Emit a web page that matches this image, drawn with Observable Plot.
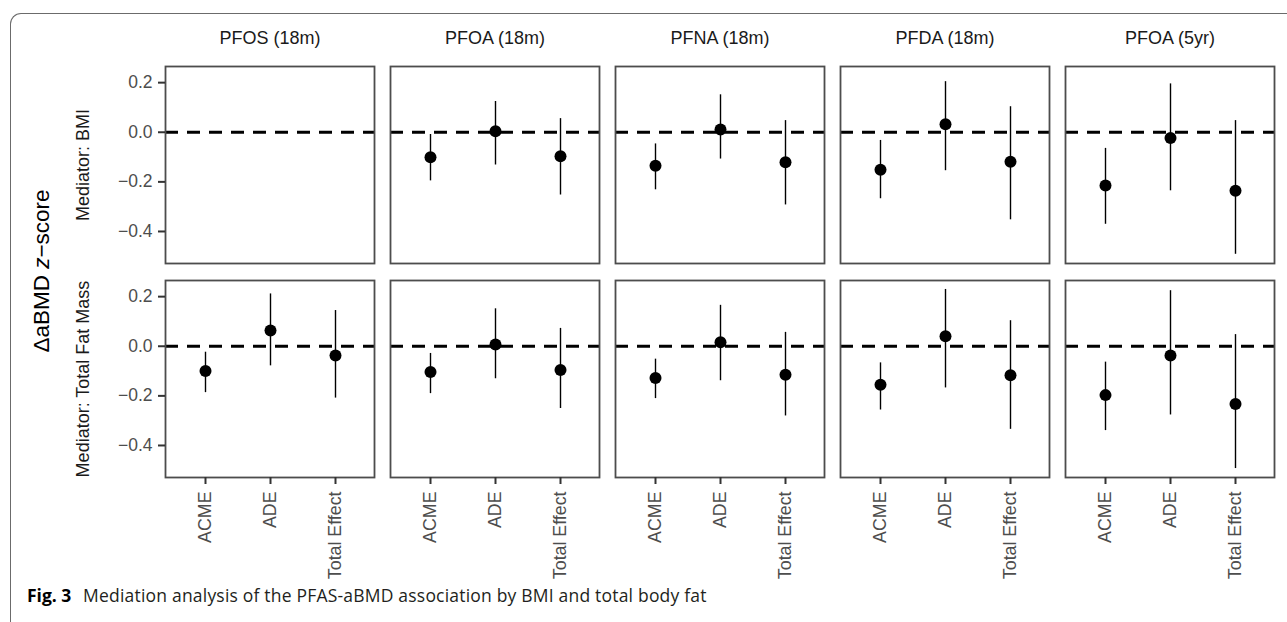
<!DOCTYPE html>
<html><head><meta charset="utf-8">
<script src="https://cdn.jsdelivr.net/npm/d3@7"></script>
<script src="https://cdn.jsdelivr.net/npm/@observablehq/plot@0.6"></script>
<style>
html,body{margin:0;padding:0;background:#fff;overflow:hidden;}
#wrap{position:relative;width:1287px;height:622px;}
#box{position:absolute;left:10px;top:13px;width:1400px;height:700px;border-top:1.3px solid #6b6b6b;border-left:1.3px solid #6b6b6b;border-top-left-radius:11px;box-sizing:border-box;}
#chart{position:absolute;left:0;top:0;}
#ytitle{position:absolute;left:42px;top:271px;transform:translate(-50%,-50%) rotate(-90deg);white-space:nowrap;font-family:"Liberation Sans",Arial,sans-serif;font-size:22.5px;color:#000;line-height:1;}
#caption{position:absolute;left:27px;top:585px;font-family:"Open Sans",Lato,sans-serif;font-size:17.5px;letter-spacing:0.2px;line-height:20px;color:#231f20;white-space:nowrap;}
#caption b{margin-right:7px;color:#000;letter-spacing:0;}
</style></head><body>
<div id="wrap"><div id="box"></div><div id="chart"></div><div id="ytitle">ΔaBMD <i>z</i>−score</div><div id="caption"><b>Fig. 3</b> Mediation analysis of the PFAS-aBMD association by BMI and total body fat</div></div>
<script>
const compounds = ["PFOS (18m)", "PFOA (18m)", "PFNA (18m)", "PFDA (18m)", "PFOA (5yr)"];
const mediators = ["Mediator: BMI", "Mediator: Total Fat Mass"];
const effects = ["ACME", "ADE", "Total Effect"];
const yTicks = [0.2, 0.0, -0.2, -0.4];

// rows: compounds; columns: ACME, ADE, Total Effect
const bmiEstimate = [[null, null, null], [-0.101, 0.004, -0.097], [-0.135, 0.011, -0.121], [-0.151, 0.032, -0.119], [-0.215, -0.023, -0.236]];
const bmiLower    = [[null, null, null], [-0.196, -0.132, -0.253], [-0.232, -0.108, -0.293], [-0.268, -0.155, -0.353], [-0.371, -0.236, -0.492]];
const bmiUpper    = [[null, null, null], [-0.009, 0.124, 0.055], [-0.047, 0.151, 0.047], [-0.033, 0.204, 0.103], [-0.065, 0.195, 0.047]];

const fatEstimate = [[-0.100, 0.064, -0.037], [-0.104, 0.007, -0.096], [-0.128, 0.016, -0.115], [-0.155, 0.040, -0.117], [-0.197, -0.037, -0.233]];
const fatLower    = [[-0.187, -0.079, -0.209], [-0.191, -0.131, -0.251], [-0.211, -0.139, -0.281], [-0.257, -0.168, -0.335], [-0.340, -0.277, -0.493]];
const fatUpper    = [[-0.024, 0.211, 0.144], [-0.029, 0.151, 0.072], [-0.052, 0.165, 0.056], [-0.067, 0.229, 0.103], [-0.064, 0.224, 0.047]];

const rows = [];
function addRows(mediator, est, lo, hi) {
  compounds.forEach((c, i) => effects.forEach((e, j) => {
    if (est[i][j] == null) return;
    rows.push({compound: c, mediator, effect: e, estimate: est[i][j], lower: lo[i][j], upper: hi[i][j]});
  }));
}
addRows(mediators[0], bmiEstimate, bmiLower, bmiUpper);
addRows(mediators[1], fatEstimate, fatLower, fatUpper);
const cells = mediators.flatMap(m => compounds.map(c => ({compound: c, mediator: m})));
const lo = d3.min(rows, d => d.lower), hi = d3.max(rows, d => d.upper);
const pad = (hi - lo) * 0.05;
const FONT = "'Liberation Sans', Arial, sans-serif";

const chart = Plot.plot({
  width: 1287, height: 588,
  marginTop: 66, marginBottom: 109.7, marginLeft: 163, marginRight: 11.5,
  style: {fontFamily: FONT, fontSize: "17.5px", background: "transparent", overflow: "visible"},
  fx: {domain: compounds, paddingInner: 0.069, paddingOuter: 0, axis: null},
  fy: {domain: mediators, paddingInner: 0.078, paddingOuter: 0, axis: null},
  x: {type: "point", domain: effects, padding: 0.6, axis: null},
  y: {domain: [lo - pad, hi + pad], axis: null},
  marks: [
    Plot.ruleY(cells, {fx: "compound", fy: "mediator", y: 0, stroke: "#000", strokeWidth: 3, strokeDasharray: "13,9"}),
    Plot.ruleX(rows, {fx: "compound", fy: "mediator", x: "effect", y1: "lower", y2: "upper", stroke: "#000", strokeWidth: 1.4}),
    Plot.dot(rows, {fx: "compound", fy: "mediator", x: "effect", y: "estimate", r: 6, fill: "#000", stroke: "none"}),
    Plot.frame({stroke: "#4d4d4d", strokeWidth: 1.8}),
    Plot.axisY({anchor: "left", facetAnchor: "left", ticks: yTicks, tickFormat: d3.format(".1f"), tickSize: 7, tickPadding: 6, stroke: "#333", strokeWidth: 2, fill: "#4d4d4d", fontSize: 17.5, label: null}),
    Plot.axisX({anchor: "bottom", facetAnchor: "bottom", tickRotate: -90, tickSize: 7, tickPadding: 7, stroke: "#333", strokeWidth: 2, fill: "#4d4d4d", fontSize: 17.8, label: null}),
    Plot.text(compounds, {fx: d => d, fy: () => mediators[0], text: d => d, frameAnchor: "top", lineAnchor: "middle", dy: -28, fontSize: 18, fontFamily: FONT, fill: "#1a1a1a"}),
    Plot.text(mediators, {fx: () => compounds[0], fy: d => d, text: d => d, frameAnchor: "left", textAnchor: "middle", lineAnchor: "middle", dx: -82, rotate: -90, fontSize: 18, fontFamily: FONT, fill: "#1a1a1a"})
  ]
});
document.getElementById("chart").appendChild(chart);
</script>
</body></html>
